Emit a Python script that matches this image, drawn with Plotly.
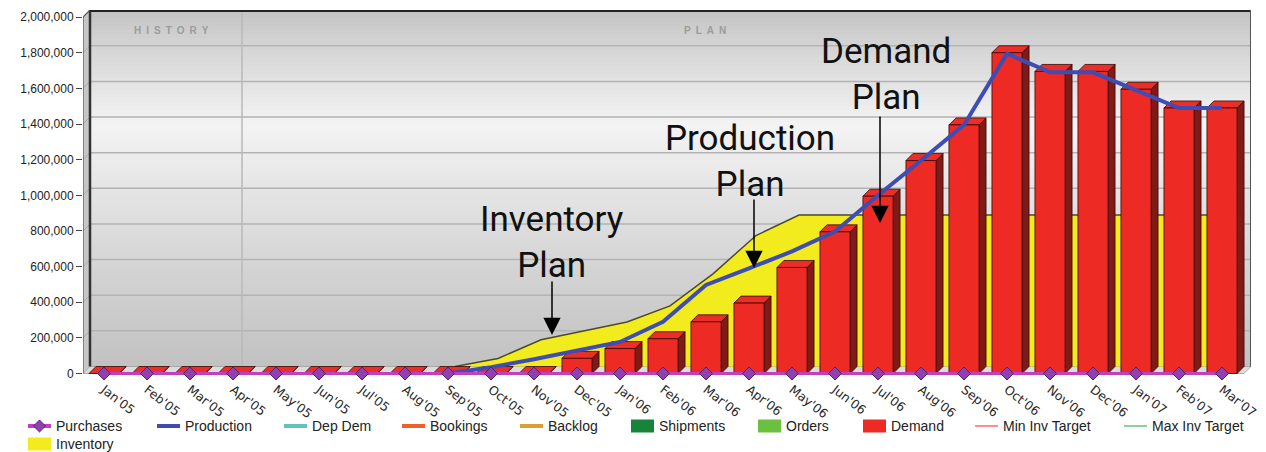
import plotly.graph_objects as go

# ---------------- data ----------------
months = ["Jan'05", "Feb'05", "Mar'05", "Apr'05", "May'05", "Jun'05", "Jul'05", "Aug'05",
          "Sep'05", "Oct'05", "Nov'05", "Dec'05", "Jan'06", "Feb'06", "Mar'06", "Apr'06",
          "May'06", "Jun'06", "Jul'06", "Aug'06", "Sep'06", "Oct'06", "Nov'06", "Dec'06",
          "Jan'07", "Feb'07", "Mar'07"]

purchases = [0, 0, 0, 0, 0, 0, 0, 0, 0, 0, 0, 0, 0, 0, 0, 0, 0, 0, 0, 0, 0, 0, 0, 0, 0, 0, 0]

production = [None, None, None, None, None, None, None, None,
              0, 35000, 80000, 128000, 177000, 290000, 497000, 590000,
              685000, 796000, 1000000, 1195000, 1395000, 1795000, 1690000, 1690000,
              1590000, 1490000, 1490000]

demand = [0, 0, 0, 0, 0, 0, 0, 0, 0, 0, 0,
          85000, 140000, 195000, 290000, 395000, 595000, 795000, 995000,
          1195000, 1395000, 1800000, 1695000, 1695000, 1595000, 1490000, 1490000]

inventory = [0, 0, 0, 0, 0, 0, 0, 0, 0,
             45000, 150000, 200000, 250000, 340000, 520000, 735000, 850000, 850000,
             850000, 850000, 850000, 850000, 850000, 850000, 850000, 850000, 850000]

y_ticks = [0, 200000, 400000, 600000, 800000, 1000000, 1200000, 1400000, 1600000, 1800000, 2000000]

legend_names = ["Purchases", "Production", "Dep Dem", "Bookings", "Backlog", "Shipments",
                "Orders", "Demand", "Min Inv Target", "Max Inv Target", "Inventory"]
legend_kinds = ["marker", "line", "line", "line", "line", "box", "box", "box", "thin", "thin", "box"]
legend_colors = ["#c040c0", "#3d4db5", "#5ec4bc", "#f0602a", "#d9a030", "#17843a",
                 "#6cc040", "#ee2a24", "#ee2020", "#20a040", "#f2ec1f"]

# ---------------- geometry (pixels -> axis units) ----------------
XL, XR, YT, YB = 83, 1251, 10, 376
W, H = XR - XL, YB - YT
PXU = 43.0                       # pixels per category
ZERO_PX = 373.5
UPP = 2000000 / 356.4            # axis units per pixel
X_FIRST_PX = 104
x_lo = -(X_FIRST_PX - XL) / PXU
x_hi = x_lo + W / PXU
y_lo = -(YB - ZERO_PX) * UPP
y_hi = (ZERO_PX - YT) * UPP
DX = 7 / PXU
DY = 7 * UPP
HW = 0.35


def valx(px):
    return x_lo + (px - XL) / PXU


def valy(py):
    return (ZERO_PX - py) * UPP


def pxx(px):
    return (px - XL) / W


def pxy(py):
    return (YB - py) / H


n = len(months)
idx = list(range(n))

fig = go.Figure()

# inventory area on back plane
first = next(i for i, v in enumerate(inventory) if v > 0)
start = max(0, first - 1)
inv_x = [i + DX for i in idx[start:]]
inv_y = [v + DY for v in inventory[start:]]
fig.add_trace(go.Scatter(x=inv_x + [inv_x[-1], inv_x[0]], y=inv_y + [DY, DY],
                         fill="toself", fillcolor="#f2ec1f", mode="lines",
                         line=dict(width=0), name="Inventory", showlegend=False,
                         hoverinfo="skip"))
fig.add_trace(go.Scatter(x=inv_x + [inv_x[-1]], y=inv_y + [DY], mode="lines",
                         line=dict(color="#4a4a30", width=1.5), showlegend=False,
                         hoverinfo="skip"))

# 3D bars for demand
side_x, side_y, top_x, top_y, front_x, front_y = [], [], [], [], [], []
for i, v in zip(idx, demand):
    l, r = i - HW, i + HW
    side_x += [r, r + DX, r + DX, r, r, None]
    side_y += [0, DY, v + DY, v, 0, None]
    top_x += [l, r, r + DX, l + DX, l, None]
    top_y += [v, v, v + DY, v + DY, v, None]
    if v > 0:
        front_x += [l, r, r, l, l, None]
        front_y += [0, 0, v, v, 0, None]

fig.add_trace(go.Scatter(x=side_x, y=side_y, fill="toself", fillcolor="#7f1a17", mode="lines",
                         line=dict(color="#3a0808", width=0.8), showlegend=False, hoverinfo="skip"))
fig.add_trace(go.Scatter(x=top_x, y=top_y, fill="toself", fillcolor="#ea2e28", mode="lines",
                         line=dict(color="#3a0808", width=0.8), showlegend=False, hoverinfo="skip"))
fig.add_trace(go.Scatter(x=front_x, y=front_y, fill="toself", fillcolor="#ee2a24", mode="lines",
                         line=dict(color="#3a0808", width=0.8), name="Demand", showlegend=False,
                         hoverinfo="skip"))

# production line
fig.add_trace(go.Scatter(x=idx, y=production, mode="lines", name="Production",
                         line=dict(color="#3d4db5", width=4), showlegend=False))

# purchases
fig.add_trace(go.Scatter(x=idx, y=purchases, mode="lines+markers", name="Purchases",
                         line=dict(color="#c040c0", width=3),
                         marker=dict(symbol="diamond", size=10, color="#9040b0",
                                     line=dict(color="#5a1e6e", width=1)),
                         cliponaxis=False, showlegend=False))

# ---------------- decoration shapes ----------------
shapes = []


def grey_at(py):
    stops = [(10, 194), (30, 206), (125, 244), (200, 227), (290, 208), (367, 194)]
    for (p0, g0), (p1, g1) in zip(stops[:-1], stops[1:]):
        if p0 <= py <= p1:
            g = g0 + (g1 - g0) * (py - p0) / (p1 - p0)
            return "rgb(%d,%d,%d)" % (g, g, g)
    return "rgb(200,200,200)"


p = 10.0
while p < 366.5:
    q = min(p + 4, 366.5)
    shapes.append(dict(type="rect", xref="x", yref="y", x0=x_lo + DX, x1=x_hi,
                       y0=valy(q), y1=valy(p), fillcolor=grey_at((p + q) / 2),
                       line=dict(width=0), layer="below"))
    p = q

# left wall
shapes.append(dict(type="path", xref="x", yref="y", layer="below",
                   path="M%f,%f L%f,%f L%f,%f L%f,%f Z" % (x_lo, 0, x_lo + DX, DY, x_lo + DX, y_hi,
                                                         x_lo, y_hi - DY),
                   fillcolor="#c6c6c6", line=dict(width=0)))
# floor
x_end = x_hi - DX
shapes.append(dict(type="path", xref="x", yref="y", layer="below",
                   path="M%f,%f L%f,%f L%f,%f L%f,%f Z" % (x_lo, 0, x_end, 0, x_end + DX, DY,
                                                         x_lo + DX, DY),
                   fillcolor="#dcdcdc", line=dict(color="#9a9a9a", width=0.8)))
# gridlines
for v in y_ticks[1:-1]:
    shapes.append(dict(type="line", xref="x", yref="y", layer="below", x0=x_lo + DX, x1=x_hi,
                       y0=v + DY, y1=v + DY, line=dict(color="#b3b3b3", width=1.5)))
    shapes.append(dict(type="line", xref="x", yref="y", layer="below", x0=x_lo, x1=x_lo + DX,
                       y0=v, y1=v + DY, line=dict(color="#a8a8a8", width=1)))
# history / plan divider
shapes.append(dict(type="line", xref="x", yref="y", layer="below", x0=valx(242), x1=valx(242),
                   y0=DY, y1=y_hi, line=dict(color="#b8b8b8", width=1.5)))
# frame edges
shapes.append(dict(type="line", xref="x", yref="y", layer="below", x0=x_lo + DX, x1=x_lo + DX,
                   y0=DY, y1=y_hi, line=dict(color="#333333", width=2.5)))
shapes.append(dict(type="line", xref="x", yref="y", layer="below", x0=x_lo, x1=x_lo,
                   y0=0, y1=y_hi - DY, line=dict(color="#555555", width=1.2)))
shapes.append(dict(type="line", xref="x", yref="y", layer="below", x0=x_lo, x1=x_lo + DX,
                   y0=y_hi - DY, y1=y_hi, line=dict(color="#555555", width=1.2)))
shapes.append(dict(type="line", xref="x", yref="y", layer="below", x0=x_lo + DX, x1=x_hi,
                   y0=valy(11), y1=valy(11), line=dict(color="#222222", width=2)))
shapes.append(dict(type="line", xref="x", yref="y", layer="below", x0=valx(1250.5), x1=valx(1250.5),
                   y0=DY, y1=y_hi, line=dict(color="#555555", width=1)))

# ---------------- custom legend ----------------
annotations = []
leg_sym_x = [28, 157, 284, 402, 520, 631, 758, 863, 975, 1124, 28]
leg_row_y = [426, 426, 426, 426, 426, 426, 426, 426, 426, 426, 444]
for name, kind, color, sx, ry in zip(legend_names, legend_kinds, legend_colors, leg_sym_x, leg_row_y):
    if kind == "box":
        shapes.append(dict(type="rect", xref="paper", yref="paper", x0=pxx(sx), x1=pxx(sx + 23),
                           y0=pxy(ry + 6.5), y1=pxy(ry - 6.5), fillcolor=color, line=dict(width=0)))
    else:
        w = 1 if kind == "thin" else 4
        shapes.append(dict(type="line", xref="paper", yref="paper", x0=pxx(sx), x1=pxx(sx + 23),
                           y0=pxy(ry), y1=pxy(ry), line=dict(color=color, width=w)))
        if kind == "marker":
            cx = sx + 11.5
            shapes.append(dict(type="path", xref="paper", yref="paper",
                               path="M%f,%f L%f,%f L%f,%f L%f,%f Z" % (
                                   pxx(cx - 6), pxy(ry), pxx(cx), pxy(ry - 6),
                                   pxx(cx + 6), pxy(ry), pxx(cx), pxy(ry + 6)),
                               fillcolor="#9040b0", line=dict(color="#5a1e6e", width=1)))
    annotations.append(dict(text=name, xref="paper", yref="paper", x=pxx(sx + 26), y=pxy(ry),
                            xanchor="left", yanchor="middle", showarrow=False,
                            font=dict(family="Liberation Sans, Arial, sans-serif", size=14,
                                      color="#222222")))

# section headers
for label, cx in [("HISTORY", 171), ("PLAN", 705)]:
    annotations.append(dict(text="\u2002".join(label), xref="paper", yref="paper", x=pxx(cx),
                            y=pxy(31), xanchor="center", yanchor="middle", showarrow=False,
                            font=dict(family="Liberation Sans, Arial, sans-serif", size=10,
                                      color="#9c9c9c", weight="bold")))

# callouts
big_font = dict(family="Roboto, sans-serif", size=35, color="#111111")
for txt, cx, cy in [("Inventory<br>Plan", 552, 243), ("Production<br>Plan", 750, 161),
                    ("Demand<br>Plan", 886, 74)]:
    annotations.append(dict(text=txt, xref="paper", yref="paper", x=pxx(cx), y=pxy(cy),
                            xanchor="center", yanchor="middle", showarrow=False, font=big_font))

for tx, ty_tail, ty_tip in [(552, 280, 335), (754, 198, 268), (880, 115, 223)]:
    annotations.append(dict(text="", xref="paper", yref="paper", x=pxx(tx), y=pxy(ty_tip),
                            ax=0, ay=ty_tail - ty_tip, showarrow=True, arrowhead=2,
                            arrowsize=2.3, arrowwidth=1.5, arrowcolor="#000000", standoff=0))

fig.update_layout(
    width=1266, height=452, autosize=False,
    margin=dict(l=XL, r=1266 - XR, t=YT, b=452 - YB, pad=0),
    paper_bgcolor="white", plot_bgcolor="white",
    showlegend=False,
    shapes=shapes, annotations=annotations,
    xaxis=dict(range=[x_lo, x_hi], tickvals=idx, ticktext=months, tickangle=38,
               showgrid=False, zeroline=False, showline=False, ticks="", automargin=False,
               ticklabelstandoff=3,
               tickfont=dict(family="DejaVu Sans, Verdana, sans-serif", size=12.5, color="#2a2a2a")),
    yaxis=dict(range=[y_lo, y_hi], tickvals=y_ticks, ticktext=["{:,}".format(v) for v in y_ticks],
               showgrid=False, zeroline=False, showline=False, ticks="outside", ticklen=6,
               tickcolor="#444444", automargin=False,
               tickfont=dict(family="Liberation Sans, Arial, sans-serif", size=12, color="#222222")),
)

fig.write_html("out.html")
